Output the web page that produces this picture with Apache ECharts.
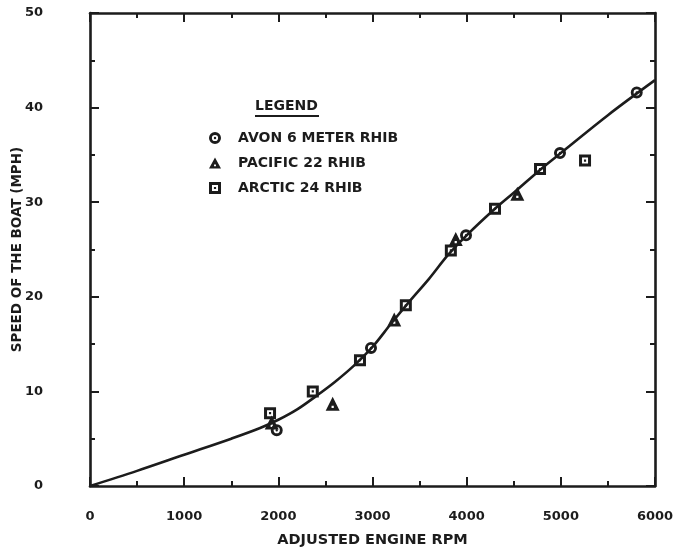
<!DOCTYPE html>
<html>
<head>
<meta charset="utf-8">
<script src="https://cdn.jsdelivr.net/npm/echarts@6/dist/echarts.min.js"></script>
<style>
  html, body { margin: 0; padding: 0; background: #ffffff; }
  #chart { width: 681px; height: 549px; }
</style>
</head>
<body>
<div id="chart"></div>
<script>
// Boat speed versus adjusted engine RPM for three RHIB hulls

const xTicks = [0, 1000, 2000, 3000, 4000, 5000, 6000];
const yTicks = [0, 10, 20, 30, 40, 50];

const seriesNames = ['AVON 6 METER RHIB', 'PACIFIC 22 RHIB', 'ARCTIC 24 RHIB'];

// [rpm, mph]
const avonPoints = [
  [1983, 5.9], [2984, 14.6], [3993, 26.5], [4991, 35.2], [5806, 41.6]
];
const pacificPoints = [
  [1930, 6.7], [2577, 8.7], [3231, 17.6], [3884, 26.1], [4538, 30.9]
];
const arcticPoints = [
  [1912, 7.7], [2366, 10.0], [2867, 13.3], [3354, 19.1],
  [3832, 24.9], [4301, 29.3], [4779, 33.5], [5257, 34.4]
];

// Faired curve through the data
const curveRpm = [0, 500, 1000, 1500, 1800, 2000, 2200, 2400, 2600, 2800, 3000,
                  3200, 3400, 3600, 3800, 4000, 4300, 4500, 4800, 5000, 5500, 6000];
const curveMph = [0, 1.6, 3.3, 5.0, 6.1, 7.0, 8.1, 9.5, 11.0, 12.7, 14.7,
                  17.2, 19.6, 21.9, 24.4, 26.5, 29.3, 31.0, 33.6, 35.2, 39.2, 42.9];

const ink = '#1c1c1c';
const font = '"DejaVu Sans", Verdana, sans-serif';

// Hollow-ring / hollow-square / solid-triangle markers, each with a small centre mark
const ringSymbol = 'path://M0,-10A10,10,0,1,1,0,10A10,10,0,1,1,0,-10Z' +
  'M0,-5.2A5.2,5.2,0,1,0,0,5.2A5.2,5.2,0,1,0,0,-5.2Z' +
  'M0,-2A2,2,0,1,1,0,2A2,2,0,1,1,0,-2Z';
const squareSymbol = 'path://M-10,-10L10,-10L10,10L-10,10Z' +
  'M-5,-5L-5,5L5,5L5,-5Z' +
  'M-1.8,-1.8L1.8,-1.8L1.8,1.8L-1.8,1.8Z';
const triangleSymbol = 'path://M0,-10L10,8L-10,8Z' +
  'M-1.6,1.5L-1.6,4.5L1.6,4.5L1.6,1.5Z';

const chart = echarts.init(document.getElementById('chart'), null, { renderer: 'canvas' });

function frameAxis(position, showLabels, isX) {
  return {
    type: 'value',
    position: position,
    min: isX ? xTicks[0] : yTicks[0],
    max: isX ? xTicks[xTicks.length - 1] : yTicks[yTicks.length - 1],
    interval: isX ? 1000 : 10,
    axisLine: { show: true, onZero: false, lineStyle: { color: ink, width: 2.6 } },
    axisTick: { show: true, inside: true, length: 9, lineStyle: { color: ink, width: 2 } },
    minorTick: { show: true, splitNumber: 2, length: 5, lineStyle: { color: ink, width: 2 } },
    splitLine: { show: false },
    axisLabel: {
      show: showLabels,
      color: ink,
      fontFamily: font,
      fontWeight: 'bold',
      fontSize: 13,
      margin: isX ? 24 : 47,
      formatter: function (v) { return String(v); }
    }
  };
}

const xBottom = frameAxis('bottom', true, true);
xBottom.name = 'ADJUSTED ENGINE RPM';
xBottom.nameLocation = 'middle';
xBottom.nameGap = 47;
xBottom.nameMoveOverlap = false;
xBottom.nameTextStyle = { color: ink, fontFamily: font, fontWeight: 'bold', fontSize: 14.5 };

const yLeft = frameAxis('left', true, false);
yLeft.name = 'SPEED OF THE BOAT (MPH)';
yLeft.nameLocation = 'middle';
yLeft.nameGap = 66;
yLeft.nameMoveOverlap = false;
yLeft.nameTextStyle = { color: ink, fontFamily: font, fontWeight: 'bold', fontSize: 13.5 };

const markerBase = { type: 'scatter', symbolSize: 12, z: 5, itemStyle: { color: ink, opacity: 1 } };

chart.setOption({
  backgroundColor: '#ffffff',
  animation: false,
  grid: { left: 90, right: 26, top: 13, bottom: 63, containLabel: false, outerBoundsMode: 'none' },
  xAxis: [xBottom, frameAxis('top', false, true)],
  yAxis: [yLeft, frameAxis('right', false, false)],
  legend: {
    data: seriesNames,
    orient: 'vertical',
    left: 204,
    top: 126,
    itemWidth: 12,
    itemHeight: 12,
    itemGap: 11,
    textStyle: {
      color: ink, fontFamily: font, fontWeight: 'bold', fontSize: 14, lineHeight: 12,
      rich: { t: { padding: [0, 0, 0, 12], fontFamily: font, fontWeight: 'bold', fontSize: 14, color: ink } }
    },
    formatter: function (name) { return '{t|' + name + '}'; },
    selectedMode: false
  },
  graphic: [
    {
      type: 'text',
      left: 255,
      top: 99,
      style: { text: 'LEGEND', fill: ink, font: 'bold 14px ' + font }
    },
    {
      type: 'line',
      shape: { x1: 255, y1: 116, x2: 319, y2: 116 },
      style: { stroke: ink, lineWidth: 2 }
    }
  ],
  series: [
    {
      name: 'curve',
      type: 'line',
      data: curveRpm.map((r, i) => [r, curveMph[i]]),
      smooth: 0.35,
      showSymbol: false,
      symbol: 'none',
      lineStyle: { color: ink, width: 2.6 },
      z: 3
    },
    Object.assign({}, markerBase, { name: seriesNames[0], symbol: ringSymbol, data: avonPoints }),
    Object.assign({}, markerBase, { name: seriesNames[1], symbol: triangleSymbol, symbolSize: 14, data: pacificPoints }),
    Object.assign({}, markerBase, { name: seriesNames[2], symbol: squareSymbol, data: arcticPoints })
  ]
});
</script>
</body>
</html>
